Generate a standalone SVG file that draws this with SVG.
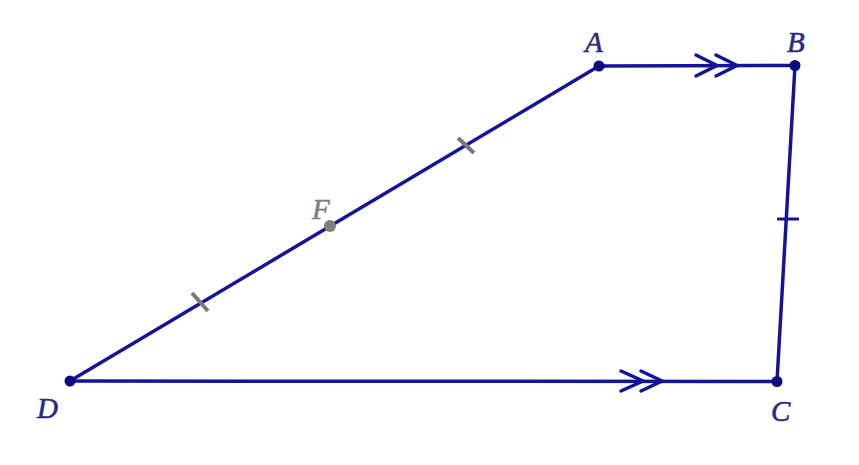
<svg xmlns="http://www.w3.org/2000/svg" width="859" height="465" viewBox="0 0 859 465">
<defs>
<style>
.seg{stroke:#14149a;stroke-width:3.5;fill:none;stroke-linecap:round}
.chev{stroke:#14149a;stroke-width:3.5;fill:none;stroke-linecap:round;stroke-linejoin:miter}
.tick{stroke:#7a7a7a;stroke-width:4;stroke-linecap:butt}
.tickb{stroke:#14149a;stroke-width:3;stroke-linecap:butt}
.pt{fill:#0b0b7e}
.lbl{font-family:"Liberation Serif",serif;font-style:italic;font-size:29px;fill:#2b2b7c;stroke:#2b2b7c;stroke-width:0.6}
.lblf{font-family:"Liberation Serif",serif;font-style:italic;font-size:29px;fill:#7f7f7f;stroke:#7f7f7f;stroke-width:0.6}
</style>
</defs>
<rect width="859" height="465" fill="#ffffff"/>
<g id="connectors">
<line class="seg" x1="70" y1="381" x2="599" y2="66"/>
<line class="seg" x1="599" y1="66" x2="795" y2="65.5"/>
<line class="seg" x1="795" y1="65.5" x2="777" y2="381.5"/>
<line class="seg" x1="70" y1="381" x2="777" y2="381.5"/>
<polyline class="chev" points="696,55 717,65.5 696,76"/>
<polyline class="chev" points="716,55 737,65.5 716,76"/>
<polyline class="chev" points="621,371 643,381 621,391"/>
<polyline class="chev" points="641,371 662,381 641,391"/>
<line class="tick" x1="192" y1="293" x2="208" y2="311"/>
<line class="tick" x1="458" y1="138" x2="474" y2="153"/>
<line class="tickb" x1="777" y1="219" x2="799" y2="219"/>
</g>
<g id="node-A"><circle class="pt" cx="599" cy="66" r="5.5"/><text class="lbl" x="585" y="52">A</text></g>
<g id="node-B"><circle class="pt" cx="795" cy="65.5" r="5.5"/><text class="lbl" x="787" y="52">B</text></g>
<g id="node-C"><circle class="pt" cx="777" cy="381.5" r="5.5"/><text class="lbl" x="771" y="421">C</text></g>
<g id="node-D"><circle class="pt" cx="70" cy="381" r="5.5"/><text class="lbl" x="37" y="418">D</text></g>
<g id="node-F"><circle cx="330" cy="226" r="6" fill="#7f7f7f"/><text class="lblf" x="312" y="219">F</text></g>
</svg>
